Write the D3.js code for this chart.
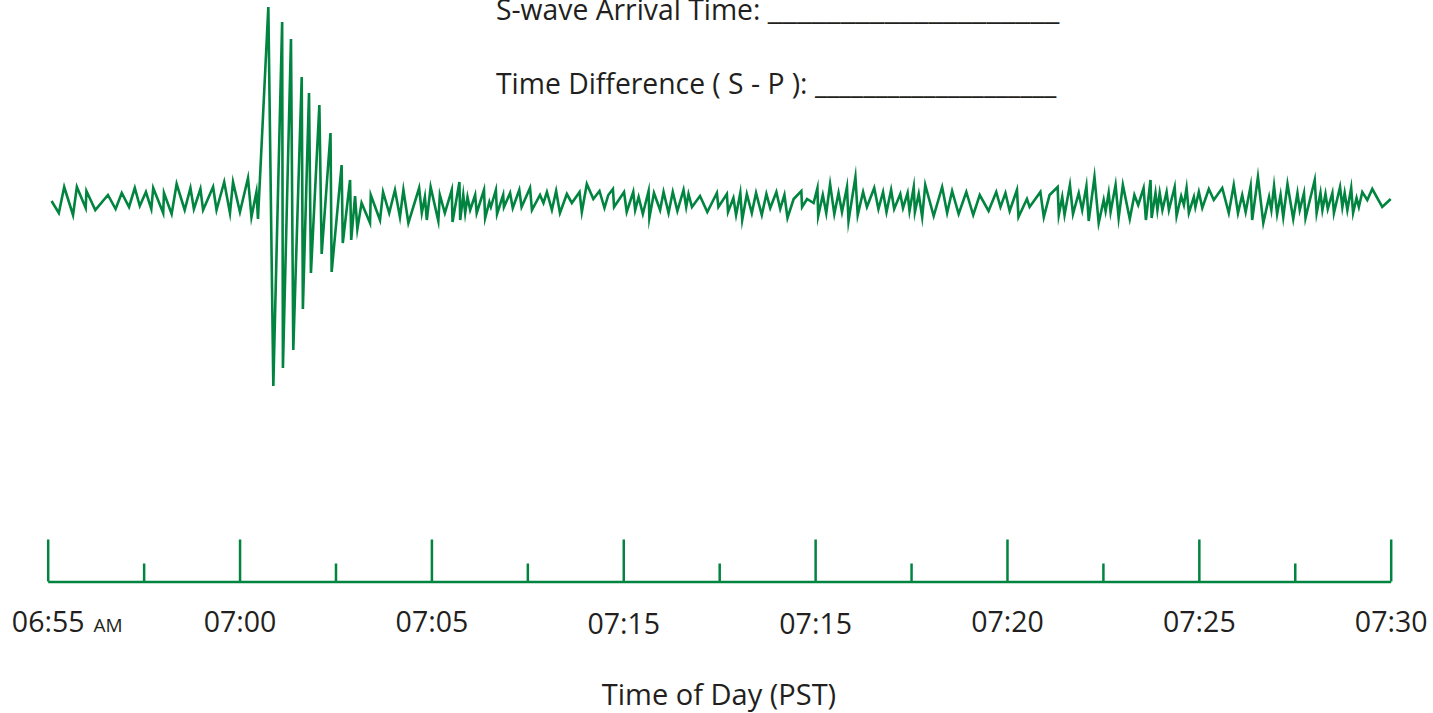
<!DOCTYPE html>
<html>
<head>
<meta charset="utf-8">
<script src="https://cdn.jsdelivr.net/npm/d3@7"></script>
<style>
  html, body { margin: 0; padding: 0; background: #ffffff; }
  svg { display: block; }
  text { font-family: "Open Sans", "Noto Sans", sans-serif; fill: #231f20; }
</style>
</head>
<body>
<svg id="chart" width="1433" height="713"></svg>
<script>
// ---- data ----
// time of each sample, minutes after 06:55
const sampleMinutes = [
  0.10,0.29,0.43,0.66,0.76,0.99,1.01,1.24,1.57,1.77,1.93,2.12,2.27,2.40,2.56,2.70,2.75,3.01,3.03,3.23,
  3.36,3.57,3.72,3.81,3.98,4.05,4.31,4.40,4.60,4.75,4.83,5.01,5.22,5.31,5.44,5.48,5.75,5.88,6.11,6.13,
  6.34,6.40,6.62,6.65,6.81,6.86,7.08,7.14,7.37,7.40,7.66,7.69,7.88,7.91,8.01,8.07,8.18,8.40,8.42,8.66,
  8.74,8.90,9.05,9.18,9.27,9.40,9.68,9.75,9.83,9.88,9.98,10.18,10.22,10.35,10.53,10.55,10.73,10.75,10.83,10.88,
  10.94,11.01,11.14,11.18,11.37,11.40,11.51,11.55,11.68,11.71,11.87,11.89,12.05,12.12,12.29,12.35,12.57,12.62,12.83,12.92,
  13.01,13.14,13.25,13.35,13.53,13.66,13.86,13.92,14.05,14.22,14.38,14.51,14.61,14.73,14.76,15.02,15.09,15.26,15.31,15.40,
  15.51,15.66,15.68,15.80,15.96,16.05,16.18,16.29,16.41,16.57,16.64,16.70,16.79,17.00,17.19,17.44,17.48,17.70,17.73,17.87,
  17.94,18.05,18.10,18.22,18.35,18.46,18.61,18.73,18.83,18.99,19.09,19.20,19.28,19.44,19.64,19.66,19.79,19.96,20.06,20.08,
  20.20,20.29,20.39,20.50,20.61,20.70,20.83,20.87,21.05,21.11,21.25,21.35,21.54,21.65,21.77,21.86,21.98,22.06,22.22,22.29,
  22.41,22.46,22.57,22.60,22.70,22.79,22.87,23.09,23.31,23.44,23.57,23.74,23.94,24.12,24.29,24.52,24.72,24.83,24.96,25.07,
  25.26,25.30,25.52,25.59,25.87,25.96,26.11,26.32,26.35,26.44,26.50,26.64,26.72,26.87,26.96,27.07,27.13,27.28,27.39,27.52,
  27.57,27.65,27.70,27.83,27.91,28.02,28.20,28.32,28.42,28.56,28.62,28.74,28.77,28.87,28.92,28.98,29.05,29.16,29.22,29.37,
  29.42,29.54,29.61,29.68,29.74,29.87,29.91,30.00,30.09,30.26,30.39,30.61,30.78,30.91,31.02,31.13,31.22,31.35,31.39,31.54,
  31.68,31.83,31.89,31.96,32.04,32.13,32.20,32.31,32.46,32.57,32.63,32.74,32.78,33.02,33.07,33.17,33.22,33.30,33.36,33.48,
  33.52,33.68,33.74,33.80,33.87,33.97,34.02,34.11,34.17,34.26,34.39,34.52,34.78,35.00
];
// ground motion amplitude of each sample
const amplitudes = [
  -1,-13,13,-15,13,-8,9,-10,5,-9,7,-7,12,-6,8,-9,12,-13,7,-14,
  16,-10,12,-9,11,-10,13,-10,18,-13,18,-12,22,-17,8,-19,193,-186,178,-168,
  161,-150,123,-109,107,-73,95,-54,67,-72,35,-43,20,-40,4,-29,-3,-23,5,-20,
  8,-13,10,-17,10,-23,12,-13,3,-20,13,-21,5,-13,10,-22,18,-20,5,-13,
  3,-10,5,-13,10,-18,-2,-7,10,-14,5,-7,7,-8,10,-7,12,-10,5,-3,
  8,-10,9,-13,6,-3,8,-12,16,1,9,-8,5,11,-7,8,-12,8,-10,3,
  -14,9,-18,7,-10,8,-13,8,-11,10,-7,6,-7,4,-12,7,-7,6,-12,2,
  -15,7,-20,6,-13,7,-15,6,-8,8,-9,5,-18,1,9,-7,1,-3,12,-16,
  5,-13,16,-14,7,-12,13,-21,23,-15,8,-7,12,-9,8,-12,10,-9,6,-8,
  7,-11,13,-12,6,-17,15,-16,13,-13,9,-14,8,-15,5,-11,8,-7,7,-11,
  10,-17,1,-7,8,-17,5,13,-15,3,-15,15,-14,7,-10,14,-21,23,-23,0,
  -11,7,-12,15,-18,15,-19,5,-5,12,-20,20,-18,7,-10,7,-10,8,-10,13,
  -16,4,-5,12,-13,3,-7,8,-8,11,0,12,-13,15,-13,5,-12,14,-20,23,
  -23,3,-10,14,-14,5,-17,16,-19,7,-10,7,-18,20,-13,7,-10,6,-9,7,
  -13,13,-7,7,-10,12,-13,2,-7,8,0,11,-7,1
];
// axis
const majorTickMinutes = [0, 5, 10, 15, 20, 25, 30, 35];
const majorTickLabels = ["06:55", "07:00", "07:05", "07:15", "07:15", "07:20", "07:25", "07:30"];
const minorTickMinutes = [2.5, 7.5, 12.5, 17.5, 22.5, 27.5, 32.5];
const firstLabelSuffix = "AM";
const axisTitle = "Time of Day (PST)";
const promptLines = ["S-wave Arrival Time:", "Time Difference ( S - P ):"];

// ---- drawing ----
const GREEN = "#00843f";
const svg = d3.select("#chart");

const x = d3.scaleLinear().domain([0, 35]).range([47.7, 1390.7]);
const y = d3.scaleLinear().domain([-200, 200]).range([400, 0]);

const points = sampleMinutes.map((m, i) => [m, amplitudes[i]]);
const line = d3.line().x(d => x(d[0])).y(d => y(d[1]));

svg.append("path")
  .datum(points)
  .attr("d", line)
  .attr("fill", "none")
  .attr("stroke", GREEN)
  .attr("stroke-width", 2.6)
  .attr("stroke-linejoin", "miter")
  .attr("stroke-miterlimit", 10);

const axisY = 581.5;
const LABEL_FS = 28.5;

// minor ticks
const minorAxis = d3.axisBottom(x)
  .tickValues(minorTickMinutes)
  .tickSizeInner(-18)
  .tickSizeOuter(0)
  .tickFormat("");
const gMinor = svg.append("g").attr("transform", `translate(0,${axisY})`).call(minorAxis);
gMinor.select(".domain").remove();

// major ticks with labels
const majorAxis = d3.axisBottom(x)
  .tickValues(majorTickMinutes)
  .tickSizeInner(-42)
  .tickSizeOuter(0)
  .tickPadding(30)
  .tickFormat((d, i) => majorTickLabels[i]);
const gMajor = svg.append("g").attr("transform", `translate(0,${axisY})`).call(majorAxis);

[gMinor, gMajor].forEach(g => {
  g.selectAll(".tick line").attr("stroke", GREEN).attr("stroke-width", 2.5);
});
gMajor.select(".domain").attr("stroke", GREEN).attr("stroke-width", 2.5);
gMajor.selectAll(".tick text")
  .attr("font-family", '"Open Sans", sans-serif')
  .attr("font-size", LABEL_FS)
  .attr("fill", "#231f20")
  .attr("dy", (d, i) => (i === 3 || i === 4) ? "0.78em" : "0.71em");

// "AM" after the first label, on the same baseline
const firstTick = gMajor.select(".tick");
const firstText = firstTick.select("text");
const halfW = firstText.node().getComputedTextLength() / 2;
firstTick.append("text")
  .attr("x", halfW + 9)
  .attr("y", +firstText.attr("y") + 0.71 * LABEL_FS)
  .attr("font-size", 19)
  .attr("text-anchor", "start")
  .attr("fill", "#231f20")
  .text(firstLabelSuffix);

// axis title
svg.append("text")
  .attr("x", 719)
  .attr("y", 705)
  .attr("text-anchor", "middle")
  .attr("font-size", 29)
  .text(axisTitle);

// prompt lines with blanks
const blanks = [{ y: 20, end: 1052 }, { y: 94, end: 1049 }];
promptLines.forEach((t, i) => {
  const txt = svg.append("text")
    .attr("x", 496)
    .attr("y", blanks[i].y)
    .attr("font-size", 28.3);
  txt.append("tspan").text(t + " ");
  const labelW = txt.node().getComputedTextLength();
  txt.append("tspan")
    .attr("textLength", blanks[i].end - 496 - labelW)
    .attr("lengthAdjust", "spacingAndGlyphs")
    .text("_".repeat(20));
});
</script>
</body>
</html>
